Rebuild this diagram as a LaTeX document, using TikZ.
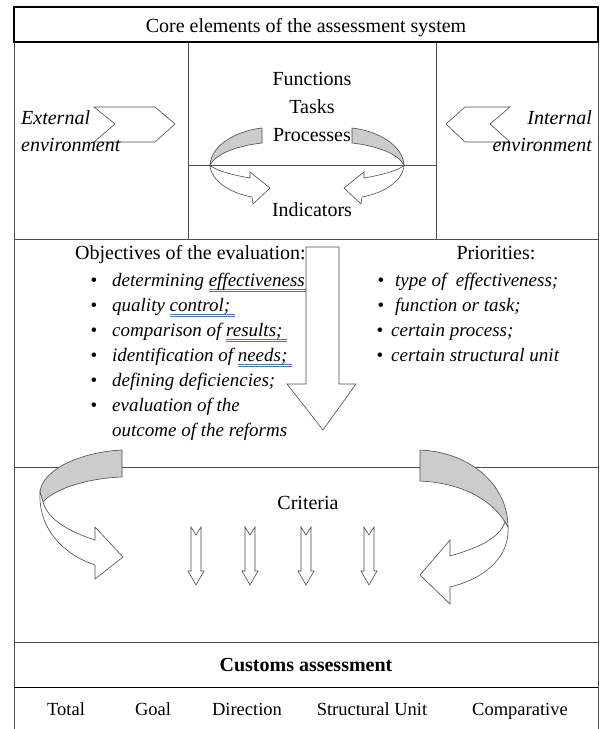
\documentclass[tikz,border=0pt]{standalone}
\usepackage{fontspec}
\setmainfont{Liberation Serif}

\definecolor{ribbongray}{gray}{0.8}
\definecolor{spellblue}{RGB}{80,115,200}

\tikzset{
  frame line/.style={draw=black!70, line width=0.9pt},
  title line/.style={draw=black, line width=1.3pt},
  shape line/.style={draw=black!70, line width=0.6pt},
  lbl/.style={font=\fontsize{20}{24}\selectfont, inner sep=0pt, anchor=base},
  envtext/.style={font=\fontsize{20}{24}\selectfont\itshape, inner sep=0pt},
  item/.style={font=\fontsize{19}{23}\selectfont\itshape, inner sep=0pt, anchor=base west},
  dot/.style={font=\fontsize{19}{23}\selectfont, inner sep=0pt, anchor=base},
  bottomtext/.style={font=\fontsize{18.5}{22}\selectfont, inner sep=0pt, anchor=base},
}

% double blue underline, as in the scanned page
\newcommand\spellmark[1]{\setbox0=\hbox{#1\hspace{5pt}}%
  \rlap{\textcolor{spellblue}{\rule[-3pt]{\wd0}{0.5pt}}}%
  \rlap{\textcolor{spellblue}{\rule[-5pt]{\wd0}{0.5pt}}}\box0}

% small loop arrow of the core block (left half)
\newcommand\loopleft{%
  \filldraw[shape line, fill=ribbongray] (262,128) .. controls (235,131) and (211,146) .. (210,165)
    .. controls (216,154) and (236,146) .. (262,143) -- cycle;
  \filldraw[shape line, fill=white] (210,165) .. controls (211,181) and (230,193) .. (252,197)
    -- (253,204) -- (270,188) -- (250,172) -- (250,178)
    .. controls (232,175) and (214,170) .. (210,165) -- cycle;}

% notched arrow under the criteria
\newcommand\notcharrow[1]{%
  \filldraw[shape line, fill=white] (#1-5,527) -- (#1,535) -- (#1+5,527) -- (#1+5,571) -- (#1+8,571)
    -- (#1,585) -- (#1-8,571) -- (#1-5,571) -- cycle;}

\begin{document}
\begin{tikzpicture}[x=1pt, y=-1pt]
  \useasboundingbox (0,0) rectangle (601,729);

  % frame
  \draw[frame line] (14,42) -- (14,729) (598,42) -- (598,729);
  \draw[frame line] (14,239) -- (598,239) (14,467) -- (598,467)
    (14,642) -- (598,642);
  \draw[frame line, draw=black] (14,687) -- (598,687);
  \draw[frame line] (188,42) -- (188,239) (436,42) -- (436,239) (188,165) -- (436,165);
  \draw[title line] (14,7) rectangle (598,42);

  % title
  \node[lbl] (title) at (306,32) {Core elements of the assessment system};

  % environment
  \draw[shape line] (94,107) -- (155,107) -- (175,124) -- (155,142) -- (94,142) -- (115,124) -- cycle;
  \draw[shape line] (510,107) -- (465,107) -- (446,124) -- (465,142) -- (510,142) -- (490,124) -- cycle;
  \node[envtext, anchor=base west] (ext1) at (21,124) {External};
  \node[envtext, anchor=base west] (ext2) at (21,151) {environment};
  \node[envtext, anchor=base east] (int1) at (592,124) {Internal};
  \node[envtext, anchor=base east] (int2) at (592,151) {environment};

  % core
  \node[lbl] (functions) at (312,85) {Functions};
  \node[lbl] (tasks) at (312,113) {Tasks};
  \node[lbl] (processes) at (312,141) {Processes};
  \node[lbl] (indicators) at (312,216) {Indicators};
  \loopleft
  \begin{scope}[shift={(614,0)}, xscale=-1]
    \loopleft
  \end{scope}

  % objectives
  \node[lbl, anchor=base west] (objectives) at (75,259) {Objectives of the evaluation:};
  \node[dot] (o1) at (94,286) {\textbullet};
  \node[item] (obj1) at (112,286) {determining \spellmark{effectiveness;}};
  \node[dot] (o2) at (94,311) {\textbullet};
  \node[item] (obj2) at (112,311) {quality \spellmark{control;}};
  \node[dot] (o3) at (94,336) {\textbullet};
  \node[item] (obj3) at (112,336) {comparison of \spellmark{results;}};
  \node[dot] (o4) at (94,361) {\textbullet};
  \node[item] (obj4) at (112,361) {identification of \spellmark{needs;}};
  \node[dot] (o5) at (94,386) {\textbullet};
  \node[item] (obj5) at (112,386) {defining deficiencies;};
  \node[dot] (o6) at (94,411) {\textbullet};
  \node[item] (obj6) at (112,411) {evaluation of the};
  \node[item] (obj7) at (112,436) {outcome of the reforms};

  % priorities
  \node[lbl] (priorities) at (496,259) {Priorities:};
  \node[dot] (p1) at (381,286) {\textbullet};
  \node[item] (pri1) at (395,286) {type of~ effectiveness;};
  \node[dot] (p2) at (381,311) {\textbullet};
  \node[item] (pri2) at (395,311) {function or task;};
  \node[dot] (p3) at (380,336) {\textbullet};
  \node[item] (pri3) at (391,336) {certain process;};
  \node[dot] (p4) at (380,361) {\textbullet};
  \node[item] (pri4) at (391,361) {certain structural unit};

  % big arrow down
  \filldraw[shape line, fill=white] (306,247) -- (339,247) -- (339,384) -- (356,384) -- (323,430)
    -- (287,384) -- (306,384) -- cycle;

  % criteria
  \filldraw[shape line, fill=ribbongray] (122,450) .. controls (80,452) and (42,470) .. (40,492)
    -- (43,502) .. controls (55,488) and (90,478) .. (122,477) -- cycle;
  \filldraw[shape line, fill=white] (40,492) .. controls (38,530) and (65,555) .. (95,565)
    -- (95,579) -- (123,557) -- (95,527) -- (95,540)
    .. controls (70,532) and (48,520) .. (43,502) -- cycle;
  \filldraw[shape line, fill=ribbongray] (420,450) .. controls (470,452) and (508,485) .. (508,527)
    -- (505,522) .. controls (490,498) and (460,483) .. (420,481) -- cycle;
  \filldraw[shape line, fill=white] (508,527) .. controls (510,560) and (480,580) .. (450,587)
    -- (450,604) -- (420,575) -- (450,540) -- (450,556)
    .. controls (478,548) and (500,538) .. (505,522) -- cycle;
  \node[lbl] (criteria) at (308,509) {Criteria};
  \notcharrow{196}
  \notcharrow{250}
  \notcharrow{306}
  \notcharrow{369}

  % assessment
  \node[lbl, font=\fontsize{20}{24}\selectfont\bfseries] (customs) at (306,671) {Customs assessment};
  \node[bottomtext] (total) at (66,715) {Total};
  \node[bottomtext] (goal) at (153,715) {Goal};
  \node[bottomtext] (direction) at (247,715) {Direction};
  \node[bottomtext] (unit) at (372,715) {Structural Unit};
  \node[bottomtext] (comparative) at (520,715) {Comparative};
\end{tikzpicture}
\end{document}
